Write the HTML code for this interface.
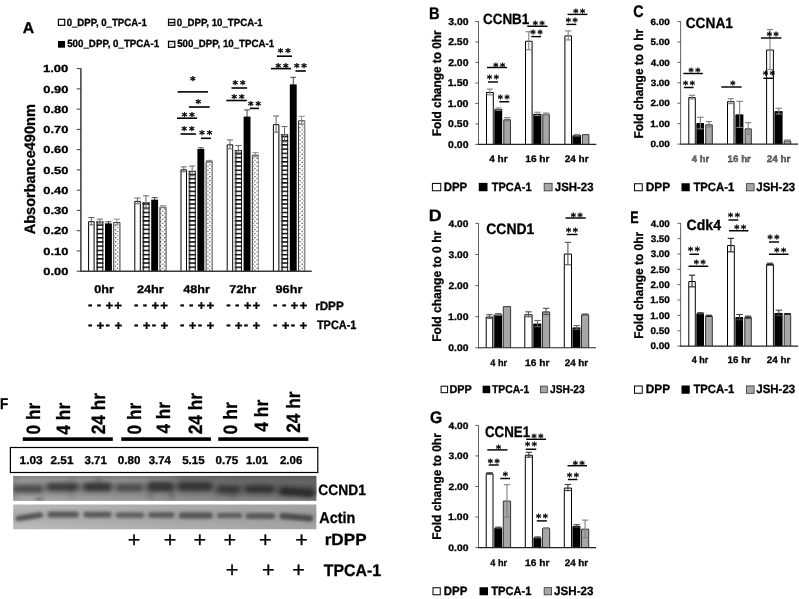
<!DOCTYPE html>
<html lang="en"><head><meta charset="utf-8"><title>Figure</title>
<style>
html,body{margin:0;padding:0;background:#fff;}
body{width:799px;height:599px;overflow:hidden;}
svg{display:block;font-family:'Liberation Sans', 'DejaVu Sans', sans-serif;font-weight:700;opacity:0.999;}
svg text{white-space:pre;text-rendering:geometricPrecision;stroke:#000;stroke-width:0.3px;}
</style></head><body>
<svg width="799" height="599" viewBox="0 0 799 599">
<rect x="0" y="0" width="799" height="599" fill="#fff"/>
<defs>
<pattern id="hs" patternUnits="userSpaceOnUse" x="0" y="0.7" width="8" height="4.22">
<rect x="0" y="0" width="8" height="4.22" fill="#fff"/><rect x="0" y="0" width="8" height="1.45" fill="#000"/>
</pattern>
<pattern id="dt" patternUnits="userSpaceOnUse" x="0.2" y="1.0" width="4.1" height="4.07">
<rect x="0" y="0" width="4.1" height="4.07" fill="#fff"/>
<circle cx="0.6" cy="0.6" r="0.6" fill="#000"/><circle cx="2.65" cy="2.63" r="0.6" fill="#000"/>
</pattern>
<filter id="blur1" x="-5%" y="-80%" width="110%" height="260%"><feGaussianBlur stdDeviation="1.7 1.4"/></filter>
<filter id="blur2" x="-5%" y="-80%" width="110%" height="260%"><feGaussianBlur stdDeviation="2.5 2.2"/></filter>
<filter id="blur3" x="-5%" y="-150%" width="110%" height="400%"><feGaussianBlur stdDeviation="3 3.5"/></filter>
</defs>
<text x="22.81" y="33" font-size="15.6" textLength="11.38" lengthAdjust="spacingAndGlyphs" fill="#000">A</text>
<rect x="58.4" y="19.3" width="6.3" height="6" fill="#fff" stroke="#000" stroke-width="1.15"/>
<text x="66.64" y="25.5" font-size="10.4" textLength="80.12" lengthAdjust="spacingAndGlyphs" fill="#000">0_DPP, 0_TPCA-1</text>
<rect x="168.5" y="19.3" width="6.3" height="6" fill="url(#hs)" stroke="#000" stroke-width="1.15"/>
<text x="176.84" y="25.5" font-size="10.4" textLength="85.91" lengthAdjust="spacingAndGlyphs" fill="#000">0_DPP, 10_TPCA-1</text>
<rect x="58" y="41" width="7" height="6.7" fill="#000"/>
<text x="67.21" y="47.2" font-size="10.4" textLength="91.85" lengthAdjust="spacingAndGlyphs" fill="#000">500_DPP, 0_TPCA-1</text>
<rect x="168.5" y="41.3" width="6.3" height="6" fill="url(#dt)" stroke="#000" stroke-width="1.2"/>
<text x="177.21" y="47.2" font-size="10.4" textLength="96.93" lengthAdjust="spacingAndGlyphs" fill="#000">500_DPP, 10_TPCA-1</text>
<text x="-64.86" y="0" font-size="15" textLength="130.25" lengthAdjust="spacingAndGlyphs" fill="#000" transform="translate(35.2 169.5) rotate(-90)">Absorbance490nm</text>
<path d="M88.6 271.2V221.66H94.1V271.2" fill="#fff" stroke="#000" stroke-width="1"/>
<line x1="91.35" y1="217.51" x2="91.35" y2="224.8" stroke="#666" stroke-width="1"/>
<line x1="88.25" y1="217.51" x2="94.45" y2="217.51" stroke="#666" stroke-width="1"/>
<line x1="88.25" y1="224.8" x2="94.45" y2="224.8" stroke="#666" stroke-width="1"/>
<rect x="96.15" y="221.56" width="7.2" height="49.64" fill="url(#hs)"/>
<line x1="96.6" y1="221.56" x2="96.6" y2="271.2" stroke="#777" stroke-width="0.9"/>
<line x1="97.45" y1="221.56" x2="97.45" y2="271.2" stroke="#111" stroke-width="0.9"/>
<line x1="102.85" y1="221.56" x2="102.85" y2="271.2" stroke="#111" stroke-width="1"/>
<line x1="96.15" y1="222.06" x2="103.35" y2="222.06" stroke="#333" stroke-width="1"/>
<line x1="99.75" y1="219.13" x2="99.75" y2="223.99" stroke="#666" stroke-width="1"/>
<line x1="96.65" y1="219.13" x2="102.85" y2="219.13" stroke="#666" stroke-width="1"/>
<line x1="96.65" y1="223.99" x2="102.85" y2="223.99" stroke="#666" stroke-width="1"/>
<line x1="108.45" y1="221.77" x2="108.45" y2="225.01" stroke="#444" stroke-width="1"/>
<line x1="105.55" y1="221.77" x2="111.35" y2="221.77" stroke="#444" stroke-width="1"/>
<line x1="105.55" y1="225.01" x2="111.35" y2="225.01" stroke="#444" stroke-width="1"/>
<rect x="105" y="223.39" width="6.9" height="47.81" fill="#000"/>
<path d="M113.7 271.2V222.47H119.9V271.2" fill="url(#dt)" stroke="#3a3a3a" stroke-width="1"/>
<line x1="119.9" y1="222.97" x2="119.9" y2="271.2" stroke="#9a9a9a" stroke-width="1"/>
<line x1="116.8" y1="219.13" x2="116.8" y2="224.8" stroke="#888" stroke-width="1"/>
<line x1="113.7" y1="219.13" x2="119.9" y2="219.13" stroke="#888" stroke-width="1"/>
<line x1="113.7" y1="224.8" x2="119.9" y2="224.8" stroke="#888" stroke-width="1"/>
<path d="M134.8 271.2V201.4H140.3V271.2" fill="#fff" stroke="#000" stroke-width="1"/>
<line x1="137.55" y1="198.06" x2="137.55" y2="203.73" stroke="#666" stroke-width="1"/>
<line x1="134.45" y1="198.06" x2="140.65" y2="198.06" stroke="#666" stroke-width="1"/>
<line x1="134.45" y1="203.73" x2="140.65" y2="203.73" stroke="#666" stroke-width="1"/>
<rect x="142.35" y="202.32" width="7.2" height="68.88" fill="url(#hs)"/>
<line x1="142.8" y1="202.32" x2="142.8" y2="271.2" stroke="#777" stroke-width="0.9"/>
<line x1="143.65" y1="202.32" x2="143.65" y2="271.2" stroke="#111" stroke-width="0.9"/>
<line x1="149.05" y1="202.32" x2="149.05" y2="271.2" stroke="#111" stroke-width="1"/>
<line x1="142.35" y1="202.82" x2="149.55" y2="202.82" stroke="#333" stroke-width="1"/>
<line x1="145.95" y1="195.83" x2="145.95" y2="208.8" stroke="#666" stroke-width="1"/>
<line x1="142.85" y1="195.83" x2="149.05" y2="195.83" stroke="#666" stroke-width="1"/>
<line x1="142.85" y1="208.8" x2="149.05" y2="208.8" stroke="#666" stroke-width="1"/>
<line x1="154.65" y1="197.66" x2="154.65" y2="201.71" stroke="#444" stroke-width="1"/>
<line x1="151.75" y1="197.66" x2="157.55" y2="197.66" stroke="#444" stroke-width="1"/>
<line x1="151.75" y1="201.71" x2="157.55" y2="201.71" stroke="#444" stroke-width="1"/>
<rect x="151.2" y="199.68" width="6.9" height="71.52" fill="#000"/>
<path d="M159.9 271.2V207.27H166.1V271.2" fill="url(#dt)" stroke="#3a3a3a" stroke-width="1"/>
<line x1="166.1" y1="207.77" x2="166.1" y2="271.2" stroke="#9a9a9a" stroke-width="1"/>
<line x1="163" y1="205.76" x2="163" y2="207.79" stroke="#888" stroke-width="1"/>
<line x1="159.9" y1="205.76" x2="166.1" y2="205.76" stroke="#888" stroke-width="1"/>
<line x1="159.9" y1="207.79" x2="166.1" y2="207.79" stroke="#888" stroke-width="1"/>
<path d="M181 271.2V169.79H186.5V271.2" fill="#fff" stroke="#000" stroke-width="1"/>
<line x1="183.75" y1="166.86" x2="183.75" y2="171.72" stroke="#666" stroke-width="1"/>
<line x1="180.65" y1="166.86" x2="186.85" y2="166.86" stroke="#666" stroke-width="1"/>
<line x1="180.65" y1="171.72" x2="186.85" y2="171.72" stroke="#666" stroke-width="1"/>
<rect x="188.55" y="170.91" width="7.2" height="100.29" fill="url(#hs)"/>
<line x1="189" y1="170.91" x2="189" y2="271.2" stroke="#777" stroke-width="0.9"/>
<line x1="189.85" y1="170.91" x2="189.85" y2="271.2" stroke="#111" stroke-width="0.9"/>
<line x1="195.25" y1="170.91" x2="195.25" y2="271.2" stroke="#111" stroke-width="1"/>
<line x1="188.55" y1="171.41" x2="195.75" y2="171.41" stroke="#333" stroke-width="1"/>
<line x1="192.15" y1="166.05" x2="192.15" y2="175.78" stroke="#666" stroke-width="1"/>
<line x1="189.05" y1="166.05" x2="195.25" y2="166.05" stroke="#666" stroke-width="1"/>
<line x1="189.05" y1="175.78" x2="195.25" y2="175.78" stroke="#666" stroke-width="1"/>
<line x1="200.85" y1="147.82" x2="200.85" y2="150.25" stroke="#444" stroke-width="1"/>
<line x1="197.95" y1="147.82" x2="203.75" y2="147.82" stroke="#444" stroke-width="1"/>
<line x1="197.95" y1="150.25" x2="203.75" y2="150.25" stroke="#444" stroke-width="1"/>
<rect x="197.4" y="149.03" width="6.9" height="122.17" fill="#000"/>
<path d="M206.1 271.2V161.69H212.3V271.2" fill="url(#dt)" stroke="#3a3a3a" stroke-width="1"/>
<line x1="212.3" y1="162.19" x2="212.3" y2="271.2" stroke="#9a9a9a" stroke-width="1"/>
<line x1="209.2" y1="160.38" x2="209.2" y2="162" stroke="#888" stroke-width="1"/>
<line x1="206.1" y1="160.38" x2="212.3" y2="160.38" stroke="#888" stroke-width="1"/>
<line x1="206.1" y1="162" x2="212.3" y2="162" stroke="#888" stroke-width="1"/>
<path d="M227.2 271.2V144.87H232.7V271.2" fill="#fff" stroke="#000" stroke-width="1"/>
<line x1="229.95" y1="139.92" x2="229.95" y2="148.83" stroke="#666" stroke-width="1"/>
<line x1="226.85" y1="139.92" x2="233.05" y2="139.92" stroke="#666" stroke-width="1"/>
<line x1="226.85" y1="148.83" x2="233.05" y2="148.83" stroke="#666" stroke-width="1"/>
<rect x="234.75" y="150.05" width="7.2" height="121.15" fill="url(#hs)"/>
<line x1="235.2" y1="150.05" x2="235.2" y2="271.2" stroke="#777" stroke-width="0.9"/>
<line x1="236.05" y1="150.05" x2="236.05" y2="271.2" stroke="#111" stroke-width="0.9"/>
<line x1="241.45" y1="150.05" x2="241.45" y2="271.2" stroke="#111" stroke-width="1"/>
<line x1="234.75" y1="150.55" x2="241.95" y2="150.55" stroke="#333" stroke-width="1"/>
<line x1="238.35" y1="145.59" x2="238.35" y2="154.5" stroke="#666" stroke-width="1"/>
<line x1="235.25" y1="145.59" x2="241.45" y2="145.59" stroke="#666" stroke-width="1"/>
<line x1="235.25" y1="154.5" x2="241.45" y2="154.5" stroke="#666" stroke-width="1"/>
<line x1="247.05" y1="109.93" x2="247.05" y2="123.3" stroke="#444" stroke-width="1"/>
<line x1="244.15" y1="109.93" x2="249.95" y2="109.93" stroke="#444" stroke-width="1"/>
<line x1="244.15" y1="123.3" x2="249.95" y2="123.3" stroke="#444" stroke-width="1"/>
<rect x="243.6" y="116.62" width="6.9" height="154.58" fill="#000"/>
<path d="M252.3 271.2V155.2H258.5V271.2" fill="url(#dt)" stroke="#3a3a3a" stroke-width="1"/>
<line x1="258.5" y1="155.7" x2="258.5" y2="271.2" stroke="#9a9a9a" stroke-width="1"/>
<line x1="255.4" y1="152.68" x2="255.4" y2="156.73" stroke="#888" stroke-width="1"/>
<line x1="252.3" y1="152.68" x2="258.5" y2="152.68" stroke="#888" stroke-width="1"/>
<line x1="252.3" y1="156.73" x2="258.5" y2="156.73" stroke="#888" stroke-width="1"/>
<path d="M273.4 271.2V124.61H278.9V271.2" fill="#fff" stroke="#000" stroke-width="1"/>
<line x1="276.15" y1="116.01" x2="276.15" y2="132.22" stroke="#666" stroke-width="1"/>
<line x1="273.05" y1="116.01" x2="279.25" y2="116.01" stroke="#666" stroke-width="1"/>
<line x1="273.05" y1="132.22" x2="279.25" y2="132.22" stroke="#666" stroke-width="1"/>
<rect x="280.95" y="134.24" width="7.2" height="136.96" fill="url(#hs)"/>
<line x1="281.4" y1="134.24" x2="281.4" y2="271.2" stroke="#777" stroke-width="0.9"/>
<line x1="282.25" y1="134.24" x2="282.25" y2="271.2" stroke="#111" stroke-width="0.9"/>
<line x1="287.65" y1="134.24" x2="287.65" y2="271.2" stroke="#111" stroke-width="1"/>
<line x1="280.95" y1="134.74" x2="288.15" y2="134.74" stroke="#333" stroke-width="1"/>
<line x1="284.55" y1="126.54" x2="284.55" y2="141.94" stroke="#666" stroke-width="1"/>
<line x1="281.45" y1="126.54" x2="287.65" y2="126.54" stroke="#666" stroke-width="1"/>
<line x1="281.45" y1="141.94" x2="287.65" y2="141.94" stroke="#666" stroke-width="1"/>
<line x1="293.25" y1="77.31" x2="293.25" y2="91.49" stroke="#444" stroke-width="1"/>
<line x1="290.35" y1="77.31" x2="296.15" y2="77.31" stroke="#444" stroke-width="1"/>
<line x1="290.35" y1="91.49" x2="296.15" y2="91.49" stroke="#444" stroke-width="1"/>
<rect x="289.8" y="84.4" width="6.9" height="186.8" fill="#000"/>
<path d="M298.5 271.2V120.76H304.7V271.2" fill="url(#dt)" stroke="#3a3a3a" stroke-width="1"/>
<line x1="304.7" y1="121.26" x2="304.7" y2="271.2" stroke="#9a9a9a" stroke-width="1"/>
<line x1="301.6" y1="116.21" x2="301.6" y2="124.31" stroke="#888" stroke-width="1"/>
<line x1="298.5" y1="116.21" x2="304.7" y2="116.21" stroke="#888" stroke-width="1"/>
<line x1="298.5" y1="124.31" x2="304.7" y2="124.31" stroke="#888" stroke-width="1"/>
<line x1="80.9" y1="68.2" x2="80.9" y2="271.8" stroke="#3a3a3a" stroke-width="1.5"/>
<line x1="76.7" y1="271.2" x2="80.9" y2="271.2" stroke="#3a3a3a" stroke-width="1"/>
<text x="43.32" y="274.85" font-size="10.3" textLength="25.08" lengthAdjust="spacingAndGlyphs" fill="#000">0.00</text>
<line x1="76.7" y1="250.94" x2="80.9" y2="250.94" stroke="#3a3a3a" stroke-width="1"/>
<text x="43.32" y="254.59" font-size="10.3" textLength="25.08" lengthAdjust="spacingAndGlyphs" fill="#000">0.10</text>
<line x1="76.7" y1="230.68" x2="80.9" y2="230.68" stroke="#3a3a3a" stroke-width="1"/>
<text x="43.32" y="234.33" font-size="10.3" textLength="25.08" lengthAdjust="spacingAndGlyphs" fill="#000">0.20</text>
<line x1="76.7" y1="210.42" x2="80.9" y2="210.42" stroke="#3a3a3a" stroke-width="1"/>
<text x="43.32" y="214.07" font-size="10.3" textLength="25.08" lengthAdjust="spacingAndGlyphs" fill="#000">0.30</text>
<line x1="76.7" y1="190.16" x2="80.9" y2="190.16" stroke="#3a3a3a" stroke-width="1"/>
<text x="43.32" y="193.81" font-size="10.3" textLength="25.08" lengthAdjust="spacingAndGlyphs" fill="#000">0.40</text>
<line x1="76.7" y1="169.9" x2="80.9" y2="169.9" stroke="#3a3a3a" stroke-width="1"/>
<text x="43.32" y="173.55" font-size="10.3" textLength="25.08" lengthAdjust="spacingAndGlyphs" fill="#000">0.50</text>
<line x1="76.7" y1="149.64" x2="80.9" y2="149.64" stroke="#3a3a3a" stroke-width="1"/>
<text x="43.32" y="153.29" font-size="10.3" textLength="25.08" lengthAdjust="spacingAndGlyphs" fill="#000">0.60</text>
<line x1="76.7" y1="129.38" x2="80.9" y2="129.38" stroke="#3a3a3a" stroke-width="1"/>
<text x="43.32" y="133.03" font-size="10.3" textLength="25.08" lengthAdjust="spacingAndGlyphs" fill="#000">0.70</text>
<line x1="76.7" y1="109.12" x2="80.9" y2="109.12" stroke="#3a3a3a" stroke-width="1"/>
<text x="43.32" y="112.77" font-size="10.3" textLength="25.08" lengthAdjust="spacingAndGlyphs" fill="#000">0.80</text>
<line x1="76.7" y1="88.86" x2="80.9" y2="88.86" stroke="#3a3a3a" stroke-width="1"/>
<text x="43.32" y="92.51" font-size="10.3" textLength="25.08" lengthAdjust="spacingAndGlyphs" fill="#000">0.90</text>
<line x1="76.7" y1="68.6" x2="80.9" y2="68.6" stroke="#3a3a3a" stroke-width="1"/>
<text x="42.98" y="72.25" font-size="10.3" textLength="25.42" lengthAdjust="spacingAndGlyphs" fill="#000">1.00</text>
<line x1="80.2" y1="271.2" x2="311.8" y2="271.2" stroke="#3a3a3a" stroke-width="1.5"/>
<text x="94.28" y="293" font-size="11.2" textLength="19.65" lengthAdjust="spacingAndGlyphs" fill="#000">0hr</text>
<text x="87.99" y="309.21" font-size="13.3">-</text>
<text x="96.79" y="309.21" font-size="13.3">-</text>
<text x="105.51" y="310.17" font-size="13.3">+</text>
<text x="114.31" y="310.17" font-size="13.3">+</text>
<text x="87.99" y="329.06" font-size="13.3">-</text>
<text x="96.61" y="330.02" font-size="13.3">+</text>
<text x="105.59" y="329.06" font-size="13.3">-</text>
<text x="114.41" y="330.02" font-size="13.3">+</text>
<text x="136.91" y="293" font-size="11.2" textLength="26.85" lengthAdjust="spacingAndGlyphs" fill="#000">24hr</text>
<text x="134.04" y="309.21" font-size="13.3">-</text>
<text x="142.84" y="309.21" font-size="13.3">-</text>
<text x="151.56" y="310.17" font-size="13.3">+</text>
<text x="160.36" y="310.17" font-size="13.3">+</text>
<text x="134.04" y="329.06" font-size="13.3">-</text>
<text x="142.66" y="330.02" font-size="13.3">+</text>
<text x="151.64" y="329.06" font-size="13.3">-</text>
<text x="160.46" y="330.02" font-size="13.3">+</text>
<text x="183.34" y="293" font-size="11.2" textLength="26.63" lengthAdjust="spacingAndGlyphs" fill="#000">48hr</text>
<text x="180.09" y="309.21" font-size="13.3">-</text>
<text x="188.89" y="309.21" font-size="13.3">-</text>
<text x="197.61" y="310.17" font-size="13.3">+</text>
<text x="206.41" y="310.17" font-size="13.3">+</text>
<text x="180.09" y="329.06" font-size="13.3">-</text>
<text x="188.71" y="330.02" font-size="13.3">+</text>
<text x="197.69" y="329.06" font-size="13.3">-</text>
<text x="206.51" y="330.02" font-size="13.3">+</text>
<text x="229.18" y="293" font-size="11.2" textLength="26.98" lengthAdjust="spacingAndGlyphs" fill="#000">72hr</text>
<text x="226.14" y="309.21" font-size="13.3">-</text>
<text x="234.94" y="309.21" font-size="13.3">-</text>
<text x="243.66" y="310.17" font-size="13.3">+</text>
<text x="252.46" y="310.17" font-size="13.3">+</text>
<text x="226.14" y="329.06" font-size="13.3">-</text>
<text x="234.76" y="330.02" font-size="13.3">+</text>
<text x="243.74" y="329.06" font-size="13.3">-</text>
<text x="252.56" y="330.02" font-size="13.3">+</text>
<text x="275.51" y="293" font-size="11.2" textLength="26.85" lengthAdjust="spacingAndGlyphs" fill="#000">96hr</text>
<text x="273.09" y="309.21" font-size="13.3">-</text>
<text x="281.89" y="309.21" font-size="13.3">-</text>
<text x="290.61" y="310.17" font-size="13.3">+</text>
<text x="299.41" y="310.17" font-size="13.3">+</text>
<text x="273.09" y="329.06" font-size="13.3">-</text>
<text x="281.71" y="330.02" font-size="13.3">+</text>
<text x="290.69" y="329.06" font-size="13.3">-</text>
<text x="299.51" y="330.02" font-size="13.3">+</text>
<text x="315.14" y="310.2" font-size="12" textLength="28.54" lengthAdjust="spacingAndGlyphs" fill="#000">rDPP</text>
<text x="316.89" y="328.6" font-size="12.3" textLength="39.6" lengthAdjust="spacingAndGlyphs" fill="#000">TPCA-1</text>
<text x="190.12" y="84.29" font-size="10.57" font-family="'DejaVu Sans', 'Liberation Sans', sans-serif" stroke-width="0.2">*</text>
<line x1="177.6" y1="91.9" x2="208" y2="91.9" stroke="#000" stroke-width="1.6"/>
<text x="195.62" y="106.79" font-size="10.57" font-family="'DejaVu Sans', 'Liberation Sans', sans-serif" stroke-width="0.2">*</text>
<line x1="188.9" y1="107" x2="209.7" y2="107" stroke="#000" stroke-width="1.6"/>
<text x="181.81" y="120.39" font-size="10.57" letter-spacing="1.9" font-family="'DejaVu Sans', 'Liberation Sans', sans-serif" stroke-width="0.2">**</text>
<line x1="177" y1="118.2" x2="197.1" y2="118.2" stroke="#000" stroke-width="1.6"/>
<text x="181.61" y="134.29" font-size="10.57" letter-spacing="1.9" font-family="'DejaVu Sans', 'Liberation Sans', sans-serif" stroke-width="0.2">**</text>
<line x1="180.5" y1="134" x2="195.9" y2="134" stroke="#000" stroke-width="1.6"/>
<text x="199.31" y="138.19" font-size="10.57" letter-spacing="1.9" font-family="'DejaVu Sans', 'Liberation Sans', sans-serif" stroke-width="0.2">**</text>
<line x1="201" y1="138.3" x2="210.9" y2="138.3" stroke="#000" stroke-width="1.6"/>
<text x="232.61" y="88.39" font-size="10.57" letter-spacing="1.9" font-family="'DejaVu Sans', 'Liberation Sans', sans-serif" stroke-width="0.2">**</text>
<line x1="231.5" y1="88" x2="247.1" y2="88" stroke="#000" stroke-width="1.6"/>
<text x="231.51" y="101.89" font-size="10.57" letter-spacing="1.9" font-family="'DejaVu Sans', 'Liberation Sans', sans-serif" stroke-width="0.2">**</text>
<line x1="226.3" y1="100.5" x2="246.8" y2="100.5" stroke="#000" stroke-width="1.6"/>
<text x="248.01" y="109.19" font-size="10.57" letter-spacing="1.9" font-family="'DejaVu Sans', 'Liberation Sans', sans-serif" stroke-width="0.2">**</text>
<line x1="249.8" y1="108.4" x2="259.1" y2="108.4" stroke="#000" stroke-width="1.6"/>
<text x="277.71" y="56.49" font-size="10.57" letter-spacing="1.9" font-family="'DejaVu Sans', 'Liberation Sans', sans-serif" stroke-width="0.2">**</text>
<line x1="276.9" y1="56.2" x2="292" y2="56.2" stroke="#000" stroke-width="1.6"/>
<text x="275.61" y="70.69" font-size="10.57" letter-spacing="1.9" font-family="'DejaVu Sans', 'Liberation Sans', sans-serif" stroke-width="0.2">**</text>
<line x1="271" y1="68.6" x2="291.1" y2="68.6" stroke="#000" stroke-width="1.6"/>
<text x="293.91" y="71.19" font-size="10.57" letter-spacing="1.9" font-family="'DejaVu Sans', 'Liberation Sans', sans-serif" stroke-width="0.2">**</text>
<line x1="295.5" y1="71" x2="305.8" y2="71" stroke="#000" stroke-width="1.6"/>
<text x="429.04" y="19.4" font-size="16.9" textLength="10.61" lengthAdjust="spacingAndGlyphs" fill="#000">B</text>
<text x="482.96" y="24" font-size="14.8" textLength="46.37" lengthAdjust="spacingAndGlyphs" fill="#000">CCNB1</text>
<text x="-53.17" y="0" font-size="12.5" textLength="105.75" lengthAdjust="spacingAndGlyphs" fill="#000" transform="translate(441 83) rotate(-90)">Fold change to 0hr</text>
<path d="M486.5 144.4V92.46H493.3V144.4" fill="#fff" stroke="#000" stroke-width="1"/>
<line x1="489.9" y1="89.09" x2="489.9" y2="94.83" stroke="#808080" stroke-width="1.1"/>
<line x1="486.7" y1="89.09" x2="493.1" y2="89.09" stroke="#808080" stroke-width="1.1"/>
<line x1="486.7" y1="94.83" x2="493.1" y2="94.83" stroke="#808080" stroke-width="1.1"/>
<rect x="493.6" y="109.47" width="1.5" height="34.93" fill="#6a6a6a"/>
<rect x="494.7" y="109.17" width="7.5" height="35.23" fill="#000"/>
<line x1="498.45" y1="107.94" x2="498.45" y2="110.39" stroke="#808080" stroke-width="1.1"/>
<line x1="495.25" y1="107.94" x2="501.65" y2="107.94" stroke="#808080" stroke-width="1.1"/>
<line x1="495.25" y1="110.39" x2="501.65" y2="110.39" stroke="#808080" stroke-width="1.1"/>
<path d="M503.8 144.4V119.79H510.5V144.4" fill="#a6a6a6" stroke="#333" stroke-width="1"/>
<line x1="507.15" y1="117.65" x2="507.15" y2="120.92" stroke="#808080" stroke-width="1.1"/>
<line x1="503.95" y1="117.65" x2="510.35" y2="117.65" stroke="#808080" stroke-width="1.1"/>
<line x1="503.95" y1="120.92" x2="510.35" y2="120.92" stroke="#808080" stroke-width="1.1"/>
<path d="M525.5 144.4V41.25H532.1V144.4" fill="#fff" stroke="#000" stroke-width="1"/>
<line x1="528.8" y1="31.73" x2="528.8" y2="49.76" stroke="#808080" stroke-width="1.1"/>
<line x1="525.6" y1="31.73" x2="532" y2="31.73" stroke="#808080" stroke-width="1.1"/>
<line x1="525.6" y1="49.76" x2="532" y2="49.76" stroke="#808080" stroke-width="1.1"/>
<rect x="532.4" y="114.18" width="1.5" height="30.22" fill="#6a6a6a"/>
<rect x="533.5" y="113.88" width="7.9" height="30.52" fill="#000"/>
<line x1="537.45" y1="112.24" x2="537.45" y2="115.52" stroke="#808080" stroke-width="1.1"/>
<line x1="534.25" y1="112.24" x2="540.65" y2="112.24" stroke="#808080" stroke-width="1.1"/>
<line x1="534.25" y1="115.52" x2="540.65" y2="115.52" stroke="#808080" stroke-width="1.1"/>
<path d="M542.8 144.4V114.38H549.3V144.4" fill="#a6a6a6" stroke="#333" stroke-width="1"/>
<line x1="546.05" y1="113.06" x2="546.05" y2="114.7" stroke="#808080" stroke-width="1.1"/>
<line x1="542.85" y1="113.06" x2="549.25" y2="113.06" stroke="#808080" stroke-width="1.1"/>
<line x1="542.85" y1="114.7" x2="549.25" y2="114.7" stroke="#808080" stroke-width="1.1"/>
<path d="M564.9 144.4V35.92H571.5V144.4" fill="#fff" stroke="#000" stroke-width="1"/>
<line x1="568.2" y1="30.91" x2="568.2" y2="39.93" stroke="#808080" stroke-width="1.1"/>
<line x1="565" y1="30.91" x2="571.4" y2="30.91" stroke="#808080" stroke-width="1.1"/>
<line x1="565" y1="39.93" x2="571.4" y2="39.93" stroke="#808080" stroke-width="1.1"/>
<rect x="572" y="135.48" width="1.5" height="8.92" fill="#6a6a6a"/>
<rect x="573.1" y="135.18" width="7.9" height="9.22" fill="#000"/>
<line x1="577.05" y1="134.36" x2="577.05" y2="136" stroke="#808080" stroke-width="1.1"/>
<line x1="573.85" y1="134.36" x2="580.25" y2="134.36" stroke="#808080" stroke-width="1.1"/>
<line x1="573.85" y1="136" x2="580.25" y2="136" stroke="#808080" stroke-width="1.1"/>
<path d="M582.4 144.4V134.66H588.9V144.4" fill="#a6a6a6" stroke="#333" stroke-width="1"/>
<line x1="478.5" y1="21.19" x2="478.5" y2="144.8" stroke="#3a3a3a" stroke-width="0.8"/>
<line x1="475.3" y1="144.4" x2="478.5" y2="144.4" stroke="#3a3a3a" stroke-width="0.8"/>
<text x="448.11" y="147.8" font-size="9.9" textLength="20.4" lengthAdjust="spacingAndGlyphs" fill="#000">0.00</text>
<line x1="475.3" y1="123.92" x2="478.5" y2="123.92" stroke="#3a3a3a" stroke-width="0.8"/>
<text x="448.11" y="127.32" font-size="9.9" textLength="20.4" lengthAdjust="spacingAndGlyphs" fill="#000">0.50</text>
<line x1="475.3" y1="103.43" x2="478.5" y2="103.43" stroke="#3a3a3a" stroke-width="0.8"/>
<text x="447.84" y="106.83" font-size="9.9" textLength="20.68" lengthAdjust="spacingAndGlyphs" fill="#000">1.00</text>
<line x1="475.3" y1="82.95" x2="478.5" y2="82.95" stroke="#3a3a3a" stroke-width="0.8"/>
<text x="447.84" y="86.35" font-size="9.9" textLength="20.68" lengthAdjust="spacingAndGlyphs" fill="#000">1.50</text>
<line x1="475.3" y1="62.46" x2="478.5" y2="62.46" stroke="#3a3a3a" stroke-width="0.8"/>
<text x="448.16" y="65.86" font-size="9.9" textLength="20.35" lengthAdjust="spacingAndGlyphs" fill="#000">2.00</text>
<line x1="475.3" y1="41.98" x2="478.5" y2="41.98" stroke="#3a3a3a" stroke-width="0.8"/>
<text x="448.16" y="45.38" font-size="9.9" textLength="20.35" lengthAdjust="spacingAndGlyphs" fill="#000">2.50</text>
<line x1="475.3" y1="21.49" x2="478.5" y2="21.49" stroke="#3a3a3a" stroke-width="0.8"/>
<text x="448.27" y="24.89" font-size="9.9" textLength="20.24" lengthAdjust="spacingAndGlyphs" fill="#000">3.00</text>
<line x1="478.1" y1="144.4" x2="596.25" y2="144.4" stroke="#222" stroke-width="1.1"/>
<text x="489.25" y="161.9" font-size="9.5" textLength="18.39" lengthAdjust="spacingAndGlyphs" fill="#000">4 hr</text>
<text x="525.26" y="161.9" font-size="9.5" textLength="24.29" lengthAdjust="spacingAndGlyphs" fill="#000">16 hr</text>
<text x="564.67" y="161.9" font-size="9.5" textLength="23.98" lengthAdjust="spacingAndGlyphs" fill="#000">24 hr</text>
<rect x="432.4" y="183.4" width="8.35" height="7.35" fill="#fff" stroke="#000" stroke-width="1"/>
<rect x="478.75" y="182.9" width="8.75" height="8.35" fill="#000"/>
<rect x="544.15" y="183.3" width="7.95" height="7.55" fill="#a6a6a6" stroke="#333" stroke-width="0.8"/>
<text x="443.65" y="190.6" font-size="12" textLength="23.6" lengthAdjust="spacingAndGlyphs" fill="#000">DPP</text>
<text x="491.79" y="190.6" font-size="12" textLength="39.75" lengthAdjust="spacingAndGlyphs" fill="#000">TPCA-1</text>
<text x="554.83" y="190.6" font-size="12" textLength="38.65" lengthAdjust="spacingAndGlyphs" fill="#000">JSH-23</text>
<text x="493.27" y="69.93" font-size="9.85" letter-spacing="1.63" font-family="'DejaVu Sans', 'Liberation Sans', sans-serif" stroke-width="0.2">**</text>
<line x1="487" y1="67.5" x2="507" y2="67.5" stroke="#000" stroke-width="1.45"/>
<text x="487.02" y="81.68" font-size="9.85" letter-spacing="1.63" font-family="'DejaVu Sans', 'Liberation Sans', sans-serif" stroke-width="0.2">**</text>
<line x1="488" y1="82" x2="498" y2="82" stroke="#000" stroke-width="1.45"/>
<text x="497.77" y="101.68" font-size="9.85" letter-spacing="1.63" font-family="'DejaVu Sans', 'Liberation Sans', sans-serif" stroke-width="0.2">**</text>
<line x1="499.25" y1="101.75" x2="509.25" y2="101.75" stroke="#000" stroke-width="1.45"/>
<text x="532.77" y="28.23" font-size="9.85" letter-spacing="1.63" font-family="'DejaVu Sans', 'Liberation Sans', sans-serif" stroke-width="0.2">**</text>
<line x1="527.25" y1="26.25" x2="547.5" y2="26.25" stroke="#000" stroke-width="1.45"/>
<text x="530.62" y="36.83" font-size="9.85" letter-spacing="1.63" font-family="'DejaVu Sans', 'Liberation Sans', sans-serif" stroke-width="0.2">**</text>
<line x1="531.25" y1="36.6" x2="541" y2="36.6" stroke="#000" stroke-width="1.45"/>
<text x="573.22" y="16.13" font-size="9.85" letter-spacing="1.63" font-family="'DejaVu Sans', 'Liberation Sans', sans-serif" stroke-width="0.2">**</text>
<line x1="567.6" y1="14.4" x2="587.4" y2="14.4" stroke="#000" stroke-width="1.45"/>
<text x="565.82" y="24.83" font-size="9.85" letter-spacing="1.63" font-family="'DejaVu Sans', 'Liberation Sans', sans-serif" stroke-width="0.2">**</text>
<line x1="566.3" y1="24.4" x2="576.3" y2="24.4" stroke="#000" stroke-width="1.45"/>
<text x="633.18" y="16.9" font-size="16.9" textLength="10.31" lengthAdjust="spacingAndGlyphs" fill="#000">C</text>
<text x="685.65" y="28.1" font-size="14.8" textLength="47.29" lengthAdjust="spacingAndGlyphs" fill="#000">CCNA1</text>
<text x="-55.17" y="0" font-size="12.8" textLength="109.73" lengthAdjust="spacingAndGlyphs" fill="#000" transform="translate(642.6 83.4) rotate(-90)">Fold change to 0 hr</text>
<path d="M688.8 144.1V97.61H695.3V144.1" fill="#fff" stroke="#000" stroke-width="1"/>
<line x1="692.05" y1="95.27" x2="692.05" y2="98.95" stroke="#808080" stroke-width="1.1"/>
<line x1="688.85" y1="95.27" x2="695.25" y2="95.27" stroke="#808080" stroke-width="1.1"/>
<line x1="688.85" y1="98.95" x2="695.25" y2="98.95" stroke="#808080" stroke-width="1.1"/>
<rect x="695.7" y="123.36" width="1.5" height="20.74" fill="#6a6a6a"/>
<rect x="696.8" y="123.06" width="7.2" height="21.04" fill="#000"/>
<line x1="700.4" y1="117.23" x2="700.4" y2="128.88" stroke="#808080" stroke-width="1.1"/>
<line x1="697.2" y1="117.23" x2="703.6" y2="117.23" stroke="#808080" stroke-width="1.1"/>
<line x1="697.2" y1="128.88" x2="703.6" y2="128.88" stroke="#808080" stroke-width="1.1"/>
<path d="M705.7 144.1V124.78H712.3V144.1" fill="#a6a6a6" stroke="#333" stroke-width="1"/>
<line x1="709" y1="121.63" x2="709" y2="126.94" stroke="#808080" stroke-width="1.1"/>
<line x1="705.8" y1="121.63" x2="712.2" y2="121.63" stroke="#808080" stroke-width="1.1"/>
<line x1="705.8" y1="126.94" x2="712.2" y2="126.94" stroke="#808080" stroke-width="1.1"/>
<path d="M727.5 144.1V101.7H734V144.1" fill="#fff" stroke="#000" stroke-width="1"/>
<line x1="730.75" y1="98.75" x2="730.75" y2="103.65" stroke="#808080" stroke-width="1.1"/>
<line x1="727.55" y1="98.75" x2="733.95" y2="98.75" stroke="#808080" stroke-width="1.1"/>
<line x1="727.55" y1="103.65" x2="733.95" y2="103.65" stroke="#808080" stroke-width="1.1"/>
<rect x="734.8" y="114.67" width="1.5" height="29.43" fill="#6a6a6a"/>
<rect x="735.9" y="114.37" width="7.5" height="29.73" fill="#000"/>
<line x1="739.65" y1="101.3" x2="739.65" y2="127.45" stroke="#808080" stroke-width="1.1"/>
<line x1="736.45" y1="101.3" x2="742.85" y2="101.3" stroke="#808080" stroke-width="1.1"/>
<line x1="736.45" y1="127.45" x2="742.85" y2="127.45" stroke="#808080" stroke-width="1.1"/>
<path d="M745.1 144.1V128.87H751.3V144.1" fill="#a6a6a6" stroke="#333" stroke-width="1"/>
<line x1="748.2" y1="122.65" x2="748.2" y2="134.09" stroke="#808080" stroke-width="1.1"/>
<line x1="745" y1="122.65" x2="751.4" y2="122.65" stroke="#808080" stroke-width="1.1"/>
<line x1="745" y1="134.09" x2="751.4" y2="134.09" stroke="#808080" stroke-width="1.1"/>
<path d="M766.6 144.1V50.01H773.4V144.1" fill="#fff" stroke="#000" stroke-width="1"/>
<line x1="770" y1="29.49" x2="770" y2="69.53" stroke="#808080" stroke-width="1.1"/>
<line x1="766.8" y1="29.49" x2="773.2" y2="29.49" stroke="#808080" stroke-width="1.1"/>
<line x1="766.8" y1="69.53" x2="773.2" y2="69.53" stroke="#808080" stroke-width="1.1"/>
<rect x="773.9" y="111.41" width="1.5" height="32.69" fill="#6a6a6a"/>
<rect x="775" y="111.11" width="7.6" height="32.99" fill="#000"/>
<line x1="778.8" y1="108.25" x2="778.8" y2="113.97" stroke="#808080" stroke-width="1.1"/>
<line x1="775.6" y1="108.25" x2="782" y2="108.25" stroke="#808080" stroke-width="1.1"/>
<line x1="775.6" y1="113.97" x2="782" y2="113.97" stroke="#808080" stroke-width="1.1"/>
<path d="M784.2 144.1V140.92H790.7V144.1" fill="#a6a6a6" stroke="#333" stroke-width="1"/>
<line x1="787.45" y1="140.01" x2="787.45" y2="140.83" stroke="#808080" stroke-width="1.1"/>
<line x1="784.25" y1="140.01" x2="790.65" y2="140.01" stroke="#808080" stroke-width="1.1"/>
<line x1="784.25" y1="140.83" x2="790.65" y2="140.83" stroke="#808080" stroke-width="1.1"/>
<line x1="680.6" y1="21.22" x2="680.6" y2="144.5" stroke="#3a3a3a" stroke-width="0.8"/>
<line x1="677.4" y1="144.1" x2="680.6" y2="144.1" stroke="#3a3a3a" stroke-width="0.8"/>
<text x="650.53" y="147.3" font-size="9.1" textLength="19.26" lengthAdjust="spacingAndGlyphs" fill="#000">0.00</text>
<line x1="677.4" y1="123.67" x2="680.6" y2="123.67" stroke="#3a3a3a" stroke-width="0.8"/>
<text x="650.27" y="126.87" font-size="9.1" textLength="19.52" lengthAdjust="spacingAndGlyphs" fill="#000">1.00</text>
<line x1="677.4" y1="103.24" x2="680.6" y2="103.24" stroke="#3a3a3a" stroke-width="0.8"/>
<text x="650.58" y="106.44" font-size="9.1" textLength="19.2" lengthAdjust="spacingAndGlyphs" fill="#000">2.00</text>
<line x1="677.4" y1="82.81" x2="680.6" y2="82.81" stroke="#3a3a3a" stroke-width="0.8"/>
<text x="650.68" y="86.01" font-size="9.1" textLength="19.1" lengthAdjust="spacingAndGlyphs" fill="#000">3.00</text>
<line x1="677.4" y1="62.38" x2="680.6" y2="62.38" stroke="#3a3a3a" stroke-width="0.8"/>
<text x="650.75" y="65.58" font-size="9.1" textLength="19.03" lengthAdjust="spacingAndGlyphs" fill="#000">4.00</text>
<line x1="677.4" y1="41.95" x2="680.6" y2="41.95" stroke="#3a3a3a" stroke-width="0.8"/>
<text x="650.6" y="45.15" font-size="9.1" textLength="19.18" lengthAdjust="spacingAndGlyphs" fill="#000">5.00</text>
<line x1="677.4" y1="21.52" x2="680.6" y2="21.52" stroke="#3a3a3a" stroke-width="0.8"/>
<text x="650.55" y="24.72" font-size="9.1" textLength="19.23" lengthAdjust="spacingAndGlyphs" fill="#000">6.00</text>
<line x1="680.2" y1="144.1" x2="798" y2="144.1" stroke="#222" stroke-width="1.1"/>
<text x="691.86" y="162" font-size="9.5" textLength="17.27" lengthAdjust="spacingAndGlyphs" fill="#7f7f7f" stroke="#7f7f7f">4 hr</text>
<text x="727.64" y="162" font-size="9.5" textLength="23.26" lengthAdjust="spacingAndGlyphs" fill="#7f7f7f" stroke="#7f7f7f">16 hr</text>
<text x="766.68" y="162" font-size="9.5" textLength="23.72" lengthAdjust="spacingAndGlyphs" fill="#7f7f7f" stroke="#7f7f7f">24 hr</text>
<rect x="634.5" y="183.75" width="7.75" height="7" fill="#fff" stroke="#000" stroke-width="1"/>
<rect x="681.5" y="183.25" width="8.25" height="8" fill="#000"/>
<rect x="746.4" y="183.65" width="7.7" height="7.2" fill="#a6a6a6" stroke="#333" stroke-width="0.8"/>
<text x="645.73" y="190.8" font-size="12" textLength="24.39" lengthAdjust="spacingAndGlyphs" fill="#000">DPP</text>
<text x="693.39" y="190.8" font-size="12" textLength="40.91" lengthAdjust="spacingAndGlyphs" fill="#000">TPCA-1</text>
<text x="756.33" y="190.8" font-size="12" textLength="38.8" lengthAdjust="spacingAndGlyphs" fill="#000">JSH-23</text>
<text x="688.52" y="75.13" font-size="9.85" letter-spacing="1.63" font-family="'DejaVu Sans', 'Liberation Sans', sans-serif" stroke-width="0.2">**</text>
<line x1="683.3" y1="73.5" x2="702.8" y2="73.5" stroke="#000" stroke-width="1.45"/>
<text x="683.02" y="87.93" font-size="9.85" letter-spacing="1.63" font-family="'DejaVu Sans', 'Liberation Sans', sans-serif" stroke-width="0.2">**</text>
<line x1="683.8" y1="87.5" x2="693.5" y2="87.5" stroke="#000" stroke-width="1.45"/>
<text x="730.21" y="87.83" font-size="9.85" font-family="'DejaVu Sans', 'Liberation Sans', sans-serif" stroke-width="0.2">*</text>
<line x1="721.3" y1="87" x2="741.6" y2="87" stroke="#000" stroke-width="1.45"/>
<text x="766.77" y="39.18" font-size="9.85" letter-spacing="1.63" font-family="'DejaVu Sans', 'Liberation Sans', sans-serif" stroke-width="0.2">**</text>
<line x1="761" y1="38" x2="781.5" y2="38" stroke="#000" stroke-width="1.45"/>
<text x="763.02" y="78.13" font-size="9.85" letter-spacing="1.63" font-family="'DejaVu Sans', 'Liberation Sans', sans-serif" stroke-width="0.2">**</text>
<line x1="763.4" y1="78.3" x2="773.2" y2="78.3" stroke="#000" stroke-width="1.45"/>
<text x="428.84" y="221" font-size="16.4" textLength="12.86" lengthAdjust="spacingAndGlyphs" fill="#000">D</text>
<text x="486.24" y="234.3" font-size="15.1" textLength="48.11" lengthAdjust="spacingAndGlyphs" fill="#000">CCND1</text>
<text x="-55.78" y="0" font-size="12.5" textLength="110.94" lengthAdjust="spacingAndGlyphs" fill="#000" transform="translate(441 286) rotate(-90)">Fold change to 0 hr</text>
<path d="M486.2 347.8V317.04H492.7V347.8" fill="#fff" stroke="#000" stroke-width="1"/>
<line x1="489.45" y1="314.68" x2="489.45" y2="318.41" stroke="#555" stroke-width="1.1"/>
<line x1="486.25" y1="314.68" x2="492.65" y2="314.68" stroke="#555" stroke-width="1.1"/>
<line x1="486.25" y1="318.41" x2="492.65" y2="318.41" stroke="#555" stroke-width="1.1"/>
<rect x="493.3" y="314.82" width="1.5" height="32.98" fill="#6a6a6a"/>
<rect x="494.4" y="314.52" width="7.8" height="33.28" fill="#000"/>
<line x1="498.3" y1="313.59" x2="498.3" y2="315.46" stroke="#666" stroke-width="1.1"/>
<line x1="495.1" y1="313.59" x2="501.5" y2="313.59" stroke="#666" stroke-width="1.1"/>
<line x1="495.1" y1="315.46" x2="501.5" y2="315.46" stroke="#666" stroke-width="1.1"/>
<path d="M503.3 347.8V306.63H510.6V347.8" fill="#a6a6a6" stroke="#333" stroke-width="1"/>
<path d="M524.8 347.8V314.81H532.1V347.8" fill="#fff" stroke="#000" stroke-width="1"/>
<line x1="528.45" y1="311.82" x2="528.45" y2="316.79" stroke="#555" stroke-width="1.1"/>
<line x1="525.25" y1="311.82" x2="531.65" y2="311.82" stroke="#555" stroke-width="1.1"/>
<line x1="525.25" y1="316.79" x2="531.65" y2="316.79" stroke="#555" stroke-width="1.1"/>
<rect x="532.5" y="323.9" width="1.5" height="23.9" fill="#6a6a6a"/>
<rect x="533.6" y="323.6" width="7.7" height="24.2" fill="#000"/>
<line x1="537.45" y1="320.49" x2="537.45" y2="326.71" stroke="#666" stroke-width="1.1"/>
<line x1="534.25" y1="320.49" x2="540.65" y2="320.49" stroke="#666" stroke-width="1.1"/>
<line x1="534.25" y1="326.71" x2="540.65" y2="326.71" stroke="#666" stroke-width="1.1"/>
<path d="M542.5 347.8V311.91H549.7V347.8" fill="#a6a6a6" stroke="#333" stroke-width="1"/>
<line x1="546.1" y1="308.3" x2="546.1" y2="314.52" stroke="#555" stroke-width="1.1"/>
<line x1="542.9" y1="308.3" x2="549.3" y2="308.3" stroke="#555" stroke-width="1.1"/>
<line x1="542.9" y1="314.52" x2="549.3" y2="314.52" stroke="#555" stroke-width="1.1"/>
<path d="M564.3 347.8V254.07H571.5V347.8" fill="#fff" stroke="#000" stroke-width="1"/>
<line x1="567.9" y1="242.37" x2="567.9" y2="264.76" stroke="#555" stroke-width="1.1"/>
<line x1="564.7" y1="242.37" x2="571.1" y2="242.37" stroke="#555" stroke-width="1.1"/>
<line x1="564.7" y1="264.76" x2="571.1" y2="264.76" stroke="#555" stroke-width="1.1"/>
<rect x="571.9" y="327.7" width="1.5" height="20.1" fill="#6a6a6a"/>
<rect x="573" y="327.4" width="7.4" height="20.4" fill="#000"/>
<line x1="576.7" y1="325.53" x2="576.7" y2="329.26" stroke="#666" stroke-width="1.1"/>
<line x1="573.5" y1="325.53" x2="579.9" y2="325.53" stroke="#666" stroke-width="1.1"/>
<line x1="573.5" y1="329.26" x2="579.9" y2="329.26" stroke="#666" stroke-width="1.1"/>
<path d="M581.5 347.8V314.81H588.7V347.8" fill="#a6a6a6" stroke="#333" stroke-width="1"/>
<line x1="585.1" y1="313.99" x2="585.1" y2="314.62" stroke="#555" stroke-width="1.1"/>
<line x1="581.9" y1="313.99" x2="588.3" y2="313.99" stroke="#555" stroke-width="1.1"/>
<line x1="581.9" y1="314.62" x2="588.3" y2="314.62" stroke="#555" stroke-width="1.1"/>
<line x1="478.5" y1="223.1" x2="478.5" y2="348.2" stroke="#3a3a3a" stroke-width="0.8"/>
<line x1="475.3" y1="347.8" x2="478.5" y2="347.8" stroke="#3a3a3a" stroke-width="0.8"/>
<text x="448.36" y="351.1" font-size="9.5" textLength="20.14" lengthAdjust="spacingAndGlyphs" fill="#000">0.00</text>
<line x1="475.3" y1="316.7" x2="478.5" y2="316.7" stroke="#3a3a3a" stroke-width="0.8"/>
<text x="448.09" y="320" font-size="9.5" textLength="20.41" lengthAdjust="spacingAndGlyphs" fill="#000">1.00</text>
<line x1="475.3" y1="285.6" x2="478.5" y2="285.6" stroke="#3a3a3a" stroke-width="0.8"/>
<text x="448.41" y="288.9" font-size="9.5" textLength="20.09" lengthAdjust="spacingAndGlyphs" fill="#000">2.00</text>
<line x1="475.3" y1="254.5" x2="478.5" y2="254.5" stroke="#3a3a3a" stroke-width="0.8"/>
<text x="448.52" y="257.8" font-size="9.5" textLength="19.98" lengthAdjust="spacingAndGlyphs" fill="#000">3.00</text>
<line x1="475.3" y1="223.4" x2="478.5" y2="223.4" stroke="#3a3a3a" stroke-width="0.8"/>
<text x="448.6" y="226.7" font-size="9.5" textLength="19.9" lengthAdjust="spacingAndGlyphs" fill="#000">4.00</text>
<line x1="478.1" y1="347.8" x2="596" y2="347.8" stroke="#222" stroke-width="1.1"/>
<text x="490.36" y="365.5" font-size="9.6" textLength="16.77" lengthAdjust="spacingAndGlyphs" fill="#000">4 hr</text>
<text x="525.11" y="365.5" font-size="9.6" textLength="24.29" lengthAdjust="spacingAndGlyphs" fill="#000">16 hr</text>
<text x="564.68" y="365.5" font-size="9.6" textLength="23.47" lengthAdjust="spacingAndGlyphs" fill="#000">24 hr</text>
<rect x="441.1" y="386.2" width="6.5" height="6.5" fill="#fff" stroke="#000" stroke-width="1"/>
<rect x="482.6" y="385.7" width="7.6" height="7.5" fill="#000"/>
<rect x="540.6" y="386.1" width="6.7" height="6.7" fill="#a6a6a6" stroke="#333" stroke-width="0.8"/>
<text x="449.49" y="392.9" font-size="11.4" textLength="22.35" lengthAdjust="spacingAndGlyphs" fill="#000">DPP</text>
<text x="492" y="392.9" font-size="11.4" textLength="37.28" lengthAdjust="spacingAndGlyphs" fill="#000">TPCA-1</text>
<text x="550.05" y="392.9" font-size="11.4" textLength="34.59" lengthAdjust="spacingAndGlyphs" fill="#000">JSH-23</text>
<text x="570.77" y="219.68" font-size="9.85" letter-spacing="1.63" font-family="'DejaVu Sans', 'Liberation Sans', sans-serif" stroke-width="0.2">**</text>
<line x1="565.5" y1="218" x2="585.75" y2="218" stroke="#000" stroke-width="1.45"/>
<text x="566.02" y="234.68" font-size="9.85" letter-spacing="1.63" font-family="'DejaVu Sans', 'Liberation Sans', sans-serif" stroke-width="0.2">**</text>
<line x1="566.75" y1="234.5" x2="577.5" y2="234.5" stroke="#000" stroke-width="1.45"/>
<text x="630.18" y="222.5" font-size="16.7" textLength="8.38" lengthAdjust="spacingAndGlyphs" fill="#000">E</text>
<text x="686.54" y="230.4" font-size="14.7" textLength="34.51" lengthAdjust="spacingAndGlyphs" fill="#000">Cdk4</text>
<text x="-53.78" y="0" font-size="12.7" textLength="106.96" lengthAdjust="spacingAndGlyphs" fill="#000" transform="translate(642.6 285) rotate(-90)">Fold change to 0hr</text>
<path d="M688.8 346.1V281.52H695.3V346.1" fill="#fff" stroke="#000" stroke-width="1"/>
<line x1="692.05" y1="275.18" x2="692.05" y2="286.85" stroke="#222" stroke-width="1.1"/>
<line x1="688.85" y1="275.18" x2="695.25" y2="275.18" stroke="#222" stroke-width="1.1"/>
<line x1="688.85" y1="286.85" x2="695.25" y2="286.85" stroke="#222" stroke-width="1.1"/>
<rect x="695.7" y="313.55" width="1.5" height="32.55" fill="#6a6a6a"/>
<rect x="696.8" y="313.25" width="7.2" height="32.85" fill="#000"/>
<line x1="700.4" y1="312.64" x2="700.4" y2="313.87" stroke="#444" stroke-width="1.1"/>
<line x1="697.2" y1="312.64" x2="703.6" y2="312.64" stroke="#444" stroke-width="1.1"/>
<line x1="697.2" y1="313.87" x2="703.6" y2="313.87" stroke="#444" stroke-width="1.1"/>
<path d="M705.6 346.1V316.36H712.3V346.1" fill="#a6a6a6" stroke="#333" stroke-width="1"/>
<line x1="708.95" y1="315.25" x2="708.95" y2="316.47" stroke="#222" stroke-width="1.1"/>
<line x1="705.75" y1="315.25" x2="712.15" y2="315.25" stroke="#222" stroke-width="1.1"/>
<line x1="705.75" y1="316.47" x2="712.15" y2="316.47" stroke="#222" stroke-width="1.1"/>
<path d="M727.5 346.1V245.6H734.3V346.1" fill="#fff" stroke="#000" stroke-width="1"/>
<line x1="730.9" y1="238.34" x2="730.9" y2="251.85" stroke="#222" stroke-width="1.1"/>
<line x1="727.7" y1="238.34" x2="734.1" y2="238.34" stroke="#222" stroke-width="1.1"/>
<line x1="727.7" y1="251.85" x2="734.1" y2="251.85" stroke="#222" stroke-width="1.1"/>
<rect x="734.8" y="317.39" width="1.5" height="28.71" fill="#6a6a6a"/>
<rect x="735.9" y="317.09" width="7.2" height="29.01" fill="#000"/>
<line x1="739.5" y1="314.48" x2="739.5" y2="319.7" stroke="#444" stroke-width="1.1"/>
<line x1="736.3" y1="314.48" x2="742.7" y2="314.48" stroke="#444" stroke-width="1.1"/>
<line x1="736.3" y1="319.7" x2="742.7" y2="319.7" stroke="#444" stroke-width="1.1"/>
<path d="M744.8 346.1V317.59H751.3V346.1" fill="#a6a6a6" stroke="#333" stroke-width="1"/>
<line x1="748.05" y1="316.17" x2="748.05" y2="318.01" stroke="#222" stroke-width="1.1"/>
<line x1="744.85" y1="316.17" x2="751.25" y2="316.17" stroke="#222" stroke-width="1.1"/>
<line x1="744.85" y1="318.01" x2="751.25" y2="318.01" stroke="#222" stroke-width="1.1"/>
<path d="M766.6 346.1V264.63H773.4V346.1" fill="#fff" stroke="#000" stroke-width="1"/>
<line x1="770" y1="263.21" x2="770" y2="265.05" stroke="#222" stroke-width="1.1"/>
<line x1="766.8" y1="263.21" x2="773.2" y2="263.21" stroke="#222" stroke-width="1.1"/>
<line x1="766.8" y1="265.05" x2="773.2" y2="265.05" stroke="#222" stroke-width="1.1"/>
<rect x="773.9" y="313.24" width="1.5" height="32.86" fill="#6a6a6a"/>
<rect x="775" y="312.94" width="7.6" height="33.16" fill="#000"/>
<line x1="778.8" y1="310.18" x2="778.8" y2="315.71" stroke="#444" stroke-width="1.1"/>
<line x1="775.6" y1="310.18" x2="782" y2="310.18" stroke="#444" stroke-width="1.1"/>
<line x1="775.6" y1="315.71" x2="782" y2="315.71" stroke="#444" stroke-width="1.1"/>
<path d="M784.2 346.1V314.37H790.7V346.1" fill="#a6a6a6" stroke="#333" stroke-width="1"/>
<line x1="787.45" y1="313.56" x2="787.45" y2="314.17" stroke="#222" stroke-width="1.1"/>
<line x1="784.25" y1="313.56" x2="790.65" y2="313.56" stroke="#222" stroke-width="1.1"/>
<line x1="784.25" y1="314.17" x2="790.65" y2="314.17" stroke="#222" stroke-width="1.1"/>
<line x1="680.6" y1="223" x2="680.6" y2="346.5" stroke="#3a3a3a" stroke-width="0.8"/>
<line x1="677.4" y1="346.1" x2="680.6" y2="346.1" stroke="#3a3a3a" stroke-width="0.8"/>
<text x="650.53" y="349.4" font-size="9.5" textLength="19.26" lengthAdjust="spacingAndGlyphs" fill="#000">0.00</text>
<line x1="677.4" y1="330.75" x2="680.6" y2="330.75" stroke="#3a3a3a" stroke-width="0.8"/>
<text x="650.53" y="334.05" font-size="9.5" textLength="19.26" lengthAdjust="spacingAndGlyphs" fill="#000">0.50</text>
<line x1="677.4" y1="315.4" x2="680.6" y2="315.4" stroke="#3a3a3a" stroke-width="0.8"/>
<text x="650.27" y="318.7" font-size="9.5" textLength="19.52" lengthAdjust="spacingAndGlyphs" fill="#000">1.00</text>
<line x1="677.4" y1="300.05" x2="680.6" y2="300.05" stroke="#3a3a3a" stroke-width="0.8"/>
<text x="650.27" y="303.35" font-size="9.5" textLength="19.52" lengthAdjust="spacingAndGlyphs" fill="#000">1.50</text>
<line x1="677.4" y1="284.7" x2="680.6" y2="284.7" stroke="#3a3a3a" stroke-width="0.8"/>
<text x="650.58" y="288" font-size="9.5" textLength="19.2" lengthAdjust="spacingAndGlyphs" fill="#000">2.00</text>
<line x1="677.4" y1="269.35" x2="680.6" y2="269.35" stroke="#3a3a3a" stroke-width="0.8"/>
<text x="650.58" y="272.65" font-size="9.5" textLength="19.2" lengthAdjust="spacingAndGlyphs" fill="#000">2.50</text>
<line x1="677.4" y1="254" x2="680.6" y2="254" stroke="#3a3a3a" stroke-width="0.8"/>
<text x="650.68" y="257.3" font-size="9.5" textLength="19.1" lengthAdjust="spacingAndGlyphs" fill="#000">3.00</text>
<line x1="677.4" y1="238.65" x2="680.6" y2="238.65" stroke="#3a3a3a" stroke-width="0.8"/>
<text x="650.68" y="241.95" font-size="9.5" textLength="19.1" lengthAdjust="spacingAndGlyphs" fill="#000">3.50</text>
<line x1="677.4" y1="223.3" x2="680.6" y2="223.3" stroke="#3a3a3a" stroke-width="0.8"/>
<text x="650.75" y="226.6" font-size="9.5" textLength="19.03" lengthAdjust="spacingAndGlyphs" fill="#000">4.00</text>
<line x1="680.2" y1="346.1" x2="798" y2="346.1" stroke="#222" stroke-width="1.1"/>
<text x="691.86" y="363.25" font-size="9.5" textLength="16.51" lengthAdjust="spacingAndGlyphs" fill="#000">4 hr</text>
<text x="727.64" y="363.25" font-size="9.5" textLength="23.26" lengthAdjust="spacingAndGlyphs" fill="#000">16 hr</text>
<text x="766.68" y="363.25" font-size="9.5" textLength="23.72" lengthAdjust="spacingAndGlyphs" fill="#000">24 hr</text>
<rect x="634.5" y="386" width="7.75" height="7.25" fill="#fff" stroke="#000" stroke-width="1"/>
<rect x="681.5" y="385.5" width="8.25" height="8.25" fill="#000"/>
<rect x="746.4" y="385.9" width="7.7" height="7.45" fill="#a6a6a6" stroke="#333" stroke-width="0.8"/>
<text x="645.73" y="393.3" font-size="12" textLength="24.39" lengthAdjust="spacingAndGlyphs" fill="#000">DPP</text>
<text x="693.39" y="393.3" font-size="12" textLength="40.91" lengthAdjust="spacingAndGlyphs" fill="#000">TPCA-1</text>
<text x="756.33" y="393.3" font-size="12" textLength="38.8" lengthAdjust="spacingAndGlyphs" fill="#000">JSH-23</text>
<text x="688.02" y="254.18" font-size="9.85" letter-spacing="1.63" font-family="'DejaVu Sans', 'Liberation Sans', sans-serif" stroke-width="0.2">**</text>
<line x1="689.5" y1="254.25" x2="699" y2="254.25" stroke="#000" stroke-width="1.45"/>
<text x="693.77" y="267.43" font-size="9.85" letter-spacing="1.63" font-family="'DejaVu Sans', 'Liberation Sans', sans-serif" stroke-width="0.2">**</text>
<line x1="688.5" y1="266.25" x2="708.25" y2="266.25" stroke="#000" stroke-width="1.45"/>
<text x="728.02" y="219.68" font-size="9.85" letter-spacing="1.63" font-family="'DejaVu Sans', 'Liberation Sans', sans-serif" stroke-width="0.2">**</text>
<line x1="728.5" y1="220" x2="738.25" y2="220" stroke="#000" stroke-width="1.45"/>
<text x="734.27" y="232.18" font-size="9.85" letter-spacing="1.63" font-family="'DejaVu Sans', 'Liberation Sans', sans-serif" stroke-width="0.2">**</text>
<line x1="729" y1="230.75" x2="748.5" y2="230.75" stroke="#000" stroke-width="1.45"/>
<text x="767.52" y="241.68" font-size="9.85" letter-spacing="1.63" font-family="'DejaVu Sans', 'Liberation Sans', sans-serif" stroke-width="0.2">**</text>
<line x1="769" y1="242" x2="779" y2="242" stroke="#000" stroke-width="1.45"/>
<text x="774.27" y="254.93" font-size="9.85" letter-spacing="1.63" font-family="'DejaVu Sans', 'Liberation Sans', sans-serif" stroke-width="0.2">**</text>
<line x1="769" y1="254.25" x2="788.5" y2="254.25" stroke="#000" stroke-width="1.45"/>
<text x="429.97" y="422.5" font-size="16.9" textLength="12.23" lengthAdjust="spacingAndGlyphs" fill="#000">G</text>
<text x="484.97" y="436.8" font-size="15.4" textLength="45.09" lengthAdjust="spacingAndGlyphs" fill="#000">CCNE1</text>
<text x="-53.57" y="0" font-size="12.5" textLength="106.55" lengthAdjust="spacingAndGlyphs" fill="#000" transform="translate(441 486.2) rotate(-90)">Fold change to 0hr</text>
<path d="M486.2 547.6V473.86H493V547.6" fill="#fff" stroke="#000" stroke-width="1"/>
<line x1="489.6" y1="472.75" x2="489.6" y2="473.97" stroke="#3a3a3a" stroke-width="1.1"/>
<line x1="486.4" y1="472.75" x2="492.8" y2="472.75" stroke="#3a3a3a" stroke-width="1.1"/>
<line x1="486.4" y1="473.97" x2="492.8" y2="473.97" stroke="#3a3a3a" stroke-width="1.1"/>
<rect x="493.5" y="528.04" width="1.5" height="19.56" fill="#6a6a6a"/>
<rect x="494.6" y="527.74" width="7.6" height="19.86" fill="#000"/>
<line x1="498.4" y1="527.13" x2="498.4" y2="528.35" stroke="#444" stroke-width="1.1"/>
<line x1="495.2" y1="527.13" x2="501.6" y2="527.13" stroke="#444" stroke-width="1.1"/>
<line x1="495.2" y1="528.35" x2="501.6" y2="528.35" stroke="#444" stroke-width="1.1"/>
<path d="M503.3 547.6V501.05H510.6V547.6" fill="#a6a6a6" stroke="#333" stroke-width="1"/>
<line x1="506.95" y1="484.67" x2="506.95" y2="517.05" stroke="#808080" stroke-width="1.1"/>
<line x1="503.75" y1="484.67" x2="510.15" y2="484.67" stroke="#808080" stroke-width="1.1"/>
<line x1="503.75" y1="517.05" x2="510.15" y2="517.05" stroke="#808080" stroke-width="1.1"/>
<path d="M525.3 547.6V455.23H532.4V547.6" fill="#fff" stroke="#000" stroke-width="1"/>
<line x1="528.85" y1="452.28" x2="528.85" y2="457.17" stroke="#3a3a3a" stroke-width="1.1"/>
<line x1="525.65" y1="452.28" x2="532.05" y2="452.28" stroke="#3a3a3a" stroke-width="1.1"/>
<line x1="525.65" y1="457.17" x2="532.05" y2="457.17" stroke="#3a3a3a" stroke-width="1.1"/>
<rect x="532.8" y="537.82" width="1.5" height="9.78" fill="#6a6a6a"/>
<rect x="533.9" y="537.52" width="7.4" height="10.08" fill="#000"/>
<line x1="537.6" y1="536.91" x2="537.6" y2="538.13" stroke="#444" stroke-width="1.1"/>
<line x1="534.4" y1="536.91" x2="540.8" y2="536.91" stroke="#444" stroke-width="1.1"/>
<line x1="534.4" y1="538.13" x2="540.8" y2="538.13" stroke="#444" stroke-width="1.1"/>
<path d="M542.5 547.6V528.55H549.7V547.6" fill="#a6a6a6" stroke="#333" stroke-width="1"/>
<line x1="546.1" y1="527.74" x2="546.1" y2="528.35" stroke="#808080" stroke-width="1.1"/>
<line x1="542.9" y1="527.74" x2="549.3" y2="527.74" stroke="#808080" stroke-width="1.1"/>
<line x1="542.9" y1="528.35" x2="549.3" y2="528.35" stroke="#808080" stroke-width="1.1"/>
<path d="M564.3 547.6V488.07H571.5V547.6" fill="#fff" stroke="#000" stroke-width="1"/>
<line x1="567.9" y1="484.51" x2="567.9" y2="490.62" stroke="#3a3a3a" stroke-width="1.1"/>
<line x1="564.7" y1="484.51" x2="571.1" y2="484.51" stroke="#3a3a3a" stroke-width="1.1"/>
<line x1="564.7" y1="490.62" x2="571.1" y2="490.62" stroke="#3a3a3a" stroke-width="1.1"/>
<rect x="571.9" y="526.21" width="1.5" height="21.39" fill="#6a6a6a"/>
<rect x="573" y="525.91" width="7.4" height="21.69" fill="#000"/>
<line x1="576.7" y1="524.69" x2="576.7" y2="527.13" stroke="#444" stroke-width="1.1"/>
<line x1="573.5" y1="524.69" x2="579.9" y2="524.69" stroke="#444" stroke-width="1.1"/>
<line x1="573.5" y1="527.13" x2="579.9" y2="527.13" stroke="#444" stroke-width="1.1"/>
<path d="M581.5 547.6V529.16H588.7V547.6" fill="#a6a6a6" stroke="#333" stroke-width="1"/>
<line x1="585.1" y1="520.11" x2="585.1" y2="537.52" stroke="#808080" stroke-width="1.1"/>
<line x1="581.9" y1="520.11" x2="588.3" y2="520.11" stroke="#808080" stroke-width="1.1"/>
<line x1="581.9" y1="537.52" x2="588.3" y2="537.52" stroke="#808080" stroke-width="1.1"/>
<line x1="478.5" y1="425.1" x2="478.5" y2="548" stroke="#3a3a3a" stroke-width="0.8"/>
<line x1="475.3" y1="547.6" x2="478.5" y2="547.6" stroke="#3a3a3a" stroke-width="0.8"/>
<text x="448.36" y="550.85" font-size="9.4" textLength="20.14" lengthAdjust="spacingAndGlyphs" fill="#000">0.00</text>
<line x1="475.3" y1="517.05" x2="478.5" y2="517.05" stroke="#3a3a3a" stroke-width="0.8"/>
<text x="448.09" y="520.3" font-size="9.4" textLength="20.41" lengthAdjust="spacingAndGlyphs" fill="#000">1.00</text>
<line x1="475.3" y1="486.5" x2="478.5" y2="486.5" stroke="#3a3a3a" stroke-width="0.8"/>
<text x="448.41" y="489.75" font-size="9.4" textLength="20.09" lengthAdjust="spacingAndGlyphs" fill="#000">2.00</text>
<line x1="475.3" y1="455.95" x2="478.5" y2="455.95" stroke="#3a3a3a" stroke-width="0.8"/>
<text x="448.52" y="459.2" font-size="9.4" textLength="19.98" lengthAdjust="spacingAndGlyphs" fill="#000">3.00</text>
<line x1="475.3" y1="425.4" x2="478.5" y2="425.4" stroke="#3a3a3a" stroke-width="0.8"/>
<text x="448.6" y="428.65" font-size="9.4" textLength="19.9" lengthAdjust="spacingAndGlyphs" fill="#000">4.00</text>
<line x1="478.1" y1="547.6" x2="596" y2="547.6" stroke="#222" stroke-width="1.1"/>
<text x="490.36" y="566" font-size="9.6" textLength="16.77" lengthAdjust="spacingAndGlyphs" fill="#000">4 hr</text>
<text x="525.11" y="566" font-size="9.6" textLength="24.29" lengthAdjust="spacingAndGlyphs" fill="#000">16 hr</text>
<text x="564.68" y="566" font-size="9.6" textLength="23.47" lengthAdjust="spacingAndGlyphs" fill="#000">24 hr</text>
<rect x="433" y="587.75" width="7.25" height="7" fill="#fff" stroke="#000" stroke-width="1"/>
<rect x="479.5" y="587.25" width="8.5" height="8" fill="#000"/>
<rect x="544.15" y="587.65" width="7.45" height="7.2" fill="#a6a6a6" stroke="#333" stroke-width="0.8"/>
<text x="443.75" y="594.8" font-size="12" textLength="23.6" lengthAdjust="spacingAndGlyphs" fill="#000">DPP</text>
<text x="491.14" y="594.8" font-size="12" textLength="40.41" lengthAdjust="spacingAndGlyphs" fill="#000">TPCA-1</text>
<text x="554.08" y="594.8" font-size="12" textLength="39.31" lengthAdjust="spacingAndGlyphs" fill="#000">JSH-23</text>
<text x="496.11" y="452.43" font-size="9.85" font-family="'DejaVu Sans', 'Liberation Sans', sans-serif" stroke-width="0.2">*</text>
<line x1="487.3" y1="449.9" x2="507.5" y2="449.9" stroke="#000" stroke-width="1.45"/>
<text x="487.77" y="466.18" font-size="9.85" letter-spacing="1.63" font-family="'DejaVu Sans', 'Liberation Sans', sans-serif" stroke-width="0.2">**</text>
<line x1="488.75" y1="465" x2="498.75" y2="465" stroke="#000" stroke-width="1.45"/>
<text x="502.71" y="478.78" font-size="9.85" font-family="'DejaVu Sans', 'Liberation Sans', sans-serif" stroke-width="0.2">*</text>
<line x1="500.3" y1="478.5" x2="510" y2="478.5" stroke="#000" stroke-width="1.45"/>
<text x="531.42" y="440.93" font-size="9.85" letter-spacing="1.63" font-family="'DejaVu Sans', 'Liberation Sans', sans-serif" stroke-width="0.2">**</text>
<line x1="526.2" y1="439.3" x2="546" y2="439.3" stroke="#000" stroke-width="1.45"/>
<text x="524.92" y="448.93" font-size="9.85" letter-spacing="1.63" font-family="'DejaVu Sans', 'Liberation Sans', sans-serif" stroke-width="0.2">**</text>
<line x1="525.75" y1="449.25" x2="536.25" y2="449.25" stroke="#000" stroke-width="1.45"/>
<text x="535.92" y="520.83" font-size="9.85" letter-spacing="1.63" font-family="'DejaVu Sans', 'Liberation Sans', sans-serif" stroke-width="0.2">**</text>
<line x1="536.8" y1="520.9" x2="546.9" y2="520.9" stroke="#000" stroke-width="1.45"/>
<text x="572.77" y="467.73" font-size="9.85" letter-spacing="1.63" font-family="'DejaVu Sans', 'Liberation Sans', sans-serif" stroke-width="0.2">**</text>
<line x1="567.5" y1="465.7" x2="587" y2="465.7" stroke="#000" stroke-width="1.45"/>
<text x="567.02" y="480.23" font-size="9.85" letter-spacing="1.63" font-family="'DejaVu Sans', 'Liberation Sans', sans-serif" stroke-width="0.2">**</text>
<line x1="567.9" y1="479.5" x2="577.4" y2="479.5" stroke="#000" stroke-width="1.45"/>
<text x="0.02" y="409.3" font-size="15.7" textLength="8.26" lengthAdjust="spacingAndGlyphs" fill="#000">F</text>
<text x="-0.65" y="0" font-size="19.3" textLength="31.69" lengthAdjust="spacingAndGlyphs" fill="#000" transform="translate(39.8 433.8) rotate(-90)">0 hr</text>
<text x="-0.26" y="0" font-size="19.3" textLength="32.01" lengthAdjust="spacingAndGlyphs" fill="#000" transform="translate(70.3 434.5) rotate(-90)">4 hr</text>
<text x="-0.56" y="0" font-size="19.3" textLength="41.33" lengthAdjust="spacingAndGlyphs" fill="#000" transform="translate(105.1 433.8) rotate(-90)">24 hr</text>
<text x="-0.65" y="0" font-size="19.3" textLength="31.69" lengthAdjust="spacingAndGlyphs" fill="#000" transform="translate(140.8 433.8) rotate(-90)">0 hr</text>
<text x="-0.26" y="0" font-size="19.3" textLength="31.5" lengthAdjust="spacingAndGlyphs" fill="#000" transform="translate(170 433.3) rotate(-90)">4 hr</text>
<text x="-0.56" y="0" font-size="19.3" textLength="41.33" lengthAdjust="spacingAndGlyphs" fill="#000" transform="translate(201.9 433.8) rotate(-90)">24 hr</text>
<text x="-0.66" y="0" font-size="19.3" textLength="32.41" lengthAdjust="spacingAndGlyphs" fill="#000" transform="translate(237.3 433.8) rotate(-90)">0 hr</text>
<text x="-0.26" y="0" font-size="19.3" textLength="32.01" lengthAdjust="spacingAndGlyphs" fill="#000" transform="translate(267.8 431.5) rotate(-90)">4 hr</text>
<text x="-0.56" y="0" font-size="19.3" textLength="41.33" lengthAdjust="spacingAndGlyphs" fill="#000" transform="translate(300.1 432.3) rotate(-90)">24 hr</text>
<rect x="22.8" y="437.3" width="90" height="3.6" fill="#000"/>
<rect x="121.3" y="437.3" width="89.6" height="3.6" fill="#000"/>
<rect x="218.3" y="437.3" width="90.1" height="3.6" fill="#000"/>
<rect x="10.4" y="447.5" width="307.4" height="25" fill="#fff" stroke="#000" stroke-width="1.2"/>
<text x="19.56" y="463.8" font-size="11.4" textLength="23.15" lengthAdjust="spacingAndGlyphs" fill="#000">1.03</text>
<text x="50.62" y="463.8" font-size="11.4" textLength="22.79" lengthAdjust="spacingAndGlyphs" fill="#000">2.51</text>
<text x="84.54" y="463.8" font-size="11.4" textLength="22.36" lengthAdjust="spacingAndGlyphs" fill="#000">3.71</text>
<text x="117.86" y="463.8" font-size="11.4" textLength="22.59" lengthAdjust="spacingAndGlyphs" fill="#000">0.80</text>
<text x="148.74" y="463.8" font-size="11.4" textLength="22.1" lengthAdjust="spacingAndGlyphs" fill="#000">3.74</text>
<text x="182.15" y="463.8" font-size="11.4" textLength="22.45" lengthAdjust="spacingAndGlyphs" fill="#000">5.15</text>
<text x="215.57" y="463.8" font-size="11.4" textLength="22.54" lengthAdjust="spacingAndGlyphs" fill="#000">0.75</text>
<text x="246.09" y="463.8" font-size="11.4" textLength="22" lengthAdjust="spacingAndGlyphs" fill="#000">1.01</text>
<text x="279.93" y="463.8" font-size="11.4" textLength="22.36" lengthAdjust="spacingAndGlyphs" fill="#000">2.06</text>
<clipPath id="cb1"><rect x="13.1" y="475.8" width="303.5" height="25.1"/></clipPath>
<clipPath id="cb2"><rect x="13.1" y="504.3" width="303.5" height="25.2"/></clipPath>
<linearGradient id="g1" x1="0" y1="0" x2="1" y2="0"><stop offset="0" stop-color="#9e9e9e"/><stop offset="0.4" stop-color="#909090"/><stop offset="0.6" stop-color="#808080"/><stop offset="1" stop-color="#747474"/></linearGradient>
<linearGradient id="g2" x1="0" y1="0" x2="1" y2="0"><stop offset="0" stop-color="#b9b9b9"/><stop offset="0.5" stop-color="#adadad"/><stop offset="1" stop-color="#a3a3a3"/></linearGradient>
<linearGradient id="gv" x1="0" y1="0" x2="0" y2="1"><stop offset="0" stop-color="#000" stop-opacity="0.16"/><stop offset="0.18" stop-color="#000" stop-opacity="0"/><stop offset="0.8" stop-color="#fff" stop-opacity="0.05"/><stop offset="1" stop-color="#fff" stop-opacity="0.10"/></linearGradient>
<g clip-path="url(#cb1)">
<rect x="13.1" y="475.8" width="303.5" height="25.1" fill="url(#g1)"/>
<rect x="13.1" y="475.8" width="303.5" height="25.1" fill="url(#gv)"/>
<rect x="10" y="482.5" width="310" height="11" fill="#4a4a4a" opacity="0.28" filter="url(#blur3)"/>
<rect x="175" y="474" width="150" height="6" fill="#333" opacity="0.35" filter="url(#blur3)"/>
<rect x="215" y="484" width="105" height="12" fill="#333" opacity="0.22" filter="url(#blur3)"/>
<g filter="url(#blur2)">
<rect x="14" y="485.2" width="29.5" height="7.4" rx="3.7" fill="#4c4c4c" transform="rotate(0 28.75 488.9)"/>
<rect x="46.5" y="483" width="32.5" height="8" rx="4" fill="#3e3e3e" transform="rotate(0 62.75 487)"/>
<rect x="82.5" y="482.7" width="29.5" height="8.6" rx="4.3" fill="#363636" transform="rotate(0 97.25 487)"/>
<rect x="115.5" y="484.2" width="28" height="6.8" rx="3.4" fill="#4a4a4a" transform="rotate(0 129.5 487.6)"/>
<rect x="147" y="481.9" width="27.5" height="9.4" rx="4.7" fill="#343434" transform="rotate(0 160.75 486.6)"/>
<rect x="177" y="481.7" width="36" height="9.4" rx="4.7" fill="#363636" transform="rotate(0 195 486.4)"/>
<rect x="217" y="485.7" width="23.5" height="7.2" rx="3.6" fill="#363636" transform="rotate(0 228.75 489.3)"/>
<rect x="244.5" y="485.2" width="30" height="7.6" rx="3.8" fill="#323232" transform="rotate(0 259.5 489)"/>
<rect x="278.5" y="487.7" width="37" height="8.6" rx="4.3" fill="#2c2c2c" transform="rotate(4 297 492)"/>
<rect x="149.5" y="488" width="2.5" height="12" fill="#303030" opacity="0.45"/>
<rect x="170" y="488" width="2.5" height="12" fill="#303030" opacity="0.5"/>
<rect x="70" y="476" width="2" height="24" fill="#303030" opacity="0.3"/>
<rect x="97" y="476" width="3" height="8" fill="#303030" opacity="0.4"/>
<rect x="231" y="490" width="3" height="10" fill="#303030" opacity="0.35"/>
<rect x="13.3" y="476" width="1.6" height="25" fill="#303030" opacity="0.5"/>
<ellipse cx="39.5" cy="499.6" rx="2.6" ry="1.4" fill="#222"/>
</g></g>
<g clip-path="url(#cb2)">
<rect x="13.1" y="504.3" width="303.5" height="25.2" fill="url(#g2)"/>
<rect x="10" y="512" width="310" height="7" fill="#555" opacity="0.22" filter="url(#blur3)"/>
<g filter="url(#blur1)">
<rect x="15.5" y="514" width="27.5" height="5.6" rx="2.8" fill="#565656" transform="rotate(-9 29.25 516.8)"/>
<rect x="47.5" y="511.6" width="31" height="5.8" rx="2.9" fill="#5a5a5a" transform="rotate(0 63 514.5)"/>
<rect x="83.5" y="511.8" width="28" height="5.6" rx="2.8" fill="#5a5a5a" transform="rotate(0 97.5 514.6)"/>
<rect x="116" y="512.4" width="28" height="5.4" rx="2.7" fill="#5e5e5e" transform="rotate(0 130 515.1)"/>
<rect x="148.5" y="512.3" width="26" height="5.4" rx="2.7" fill="#5a5a5a" transform="rotate(0 161.5 515)"/>
<rect x="179" y="512.6" width="33.5" height="5.8" rx="2.9" fill="#545454" transform="rotate(0 195.75 515.5)"/>
<rect x="217.3" y="512.9" width="24.7" height="5.2" rx="2.6" fill="#5e5e5e" transform="rotate(0 229.65 515.5)"/>
<rect x="245.8" y="513.2" width="29.2" height="5.6" rx="2.8" fill="#565656" transform="rotate(0 260.4 516)"/>
<rect x="279.5" y="514.1" width="33.7" height="6.2" rx="3.1" fill="#4e4e4e" transform="rotate(5 296.35 517.2)"/>
</g></g>
<text x="318.35" y="495.4" font-size="15" textLength="47.6" lengthAdjust="spacingAndGlyphs" fill="#000">CCND1</text>
<text x="319.24" y="522.9" font-size="15.6" textLength="36.03" lengthAdjust="spacingAndGlyphs" fill="#000">Actin</text>
<text x="127.71" y="546.55" font-size="21.6" font-weight="400">+</text>
<text x="163.81" y="546.55" font-size="21.6" font-weight="400">+</text>
<text x="193.61" y="546.55" font-size="21.6" font-weight="400">+</text>
<text x="223.41" y="546.55" font-size="21.6" font-weight="400">+</text>
<text x="259.11" y="546.55" font-size="21.6" font-weight="400">+</text>
<text x="295.31" y="546.55" font-size="21.6" font-weight="400">+</text>
<text x="225.81" y="576.75" font-size="21.6" font-weight="400">+</text>
<text x="261.91" y="576.75" font-size="21.6" font-weight="400">+</text>
<text x="292.21" y="576.75" font-size="21.6" font-weight="400">+</text>
<text x="324.69" y="545.3" font-size="16.3" textLength="41.88" lengthAdjust="spacingAndGlyphs" fill="#000">rDPP</text>
<text x="323.74" y="575.8" font-size="16.9" textLength="57.28" lengthAdjust="spacingAndGlyphs" fill="#000">TPCA-1</text>
</svg>
</body></html>
